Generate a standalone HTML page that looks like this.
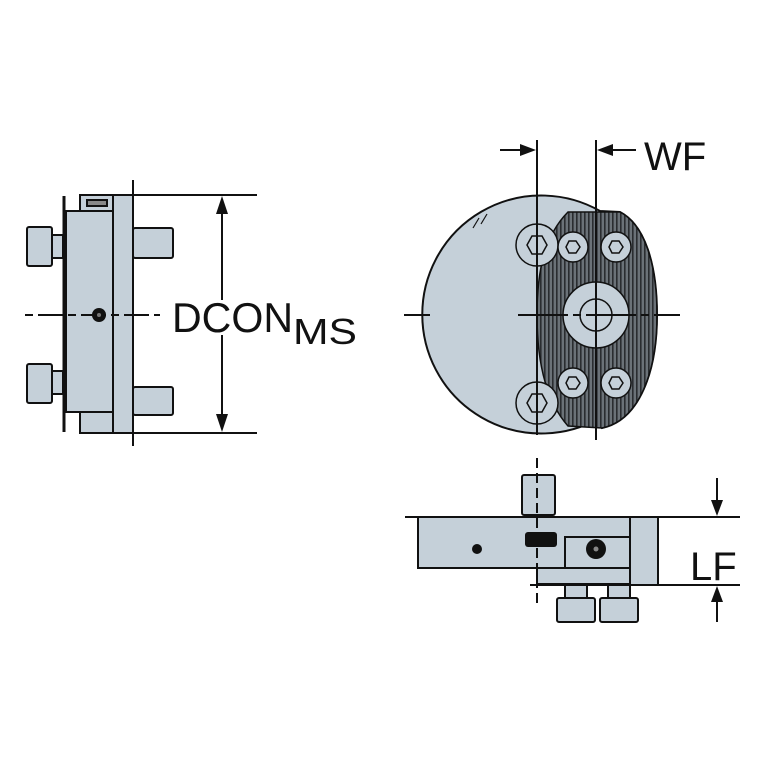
<!DOCTYPE html>
<html><head><style>html,body{margin:0;padding:0;background:#fff}svg{display:block}</style></head>
<body>
<svg width="767" height="767" viewBox="0 0 767 767" xmlns="http://www.w3.org/2000/svg" font-family="Liberation Sans, Arial, sans-serif">
<defs>
<pattern id="hatch" width="4" height="4" patternUnits="userSpaceOnUse">
<rect width="4" height="4" fill="#6b7278"/><rect width="1.6" height="4" fill="#2a2d30"/>
</pattern>
</defs>
<g stroke="#111" stroke-width="2" fill="#c5d0d9">
<!-- LEFT VIEW -->
<rect x="27" y="227" width="25" height="39" rx="2"/>
<rect x="52" y="235" width="11" height="23"/>
<rect x="27" y="364" width="25" height="39" rx="2"/>
<rect x="52" y="371" width="11" height="23"/>
<rect x="133" y="228" width="40" height="30" rx="2"/>
<rect x="133" y="387" width="40" height="28" rx="2"/>
<rect x="80" y="195" width="33" height="17"/>
<rect x="80" y="412" width="33" height="21"/>
<rect x="66" y="211" width="47" height="201"/>
<rect x="113" y="195" width="20" height="238"/>
<rect x="87" y="200" width="20" height="6" fill="#888"/>
</g>
<g stroke="#111" stroke-width="2" fill="none">
<line x1="64" y1="196" x2="64" y2="432" stroke-width="3"/>
<line x1="133" y1="180" x2="133" y2="446"/>
<line x1="133" y1="195" x2="257" y2="195"/>
<line x1="133" y1="433" x2="257" y2="433"/>
<line x1="222" y1="210" x2="222" y2="300"/>
<line x1="222" y1="335" x2="222" y2="418"/>
<line x1="25" y1="315" x2="160" y2="315" stroke-dasharray="8 5 25 5"/>
</g>
<polygon points="222,196 216,214 228,214" fill="#111"/>
<polygon points="222,432 216,414 228,414" fill="#111"/>
<circle cx="99" cy="315" r="7" fill="#111"/><circle cx="99" cy="315" r="2" fill="#777"/>
<text x="172" y="332" font-size="42" textLength="121" lengthAdjust="spacingAndGlyphs" fill="#111">DCON</text>
<text x="293" y="344" font-size="36" textLength="64" lengthAdjust="spacingAndGlyphs" fill="#111">MS</text>

<!-- CIRCLE VIEW -->
<path d="M620,212 L600,211 A119,119 0 1 0 600,418 L602,428 C640,420 657,370 657,315 C657,265 645,225 620,212 Z" fill="#c5d0d9" stroke="#111" stroke-width="2"/>
<path d="M568,212 L620,212 C645,225 657,265 657,315 C657,370 640,420 602,428 L568,426 C545,400 537,360 537,315 C537,270 545,235 568,212 Z" fill="url(#hatch)" stroke="#111" stroke-width="1.5"/>
<g stroke="#111" stroke-width="1.5" fill="#c5d0d9">
<circle cx="537" cy="245" r="21"/><polygon points="547,245 542,254 532,254 527,245 532,236 542,236" fill="none"/>
<circle cx="537" cy="403" r="21"/><polygon points="547,403 542,412 532,412 527,403 532,394 542,394" fill="none"/>
<circle cx="573" cy="247" r="15"/><polygon points="580,247 576,253 569,253 566,247 569,241 576,241" fill="none"/>
<circle cx="616" cy="247" r="15"/><polygon points="623,247 619,253 612,253 609,247 612,241 619,241" fill="none"/>
<circle cx="573" cy="383" r="15"/><polygon points="580,383 576,389 569,389 566,383 569,377 576,377" fill="none"/>
<circle cx="616" cy="383" r="15"/><polygon points="623,383 619,389 612,389 609,383 612,377 619,377" fill="none"/>
<circle cx="596" cy="315" r="33"/><circle cx="596" cy="315" r="16" fill="none"/>
</g>
<g stroke="#111" stroke-width="2" fill="none">
<line x1="537" y1="140" x2="537" y2="435"/>
<line x1="596" y1="140" x2="596" y2="440"/>
<line x1="518" y1="315" x2="680" y2="315" stroke-dasharray="50 5 8 5"/>
<line x1="404" y1="315" x2="430" y2="315"/>
<line x1="500" y1="150" x2="522" y2="150"/>
<line x1="612" y1="150" x2="636" y2="150"/>
<line x1="473" y1="228" x2="479" y2="218" stroke-width="1.2"/>
<line x1="481" y1="224" x2="487" y2="214" stroke-width="1.2"/>
</g>
<polygon points="536,150 520,144 520,156" fill="#111"/>
<polygon points="597,150 613,144 613,156" fill="#111"/>
<text x="644" y="170" font-size="40" fill="#111">WF</text>

<!-- BOTTOM VIEW -->
<g stroke="#111" stroke-width="2" fill="#c5d0d9">
<rect x="522" y="475" width="33" height="40" rx="2"/>
<rect x="565" y="583" width="22" height="16"/>
<rect x="608" y="583" width="22" height="16"/>
<rect x="557" y="598" width="38" height="24" rx="2"/>
<rect x="600" y="598" width="38" height="24" rx="2"/>
<rect x="537" y="566" width="93" height="18"/>
<rect x="418" y="517" width="239" height="51"/>
<rect x="630" y="517" width="28" height="68"/>
<rect x="565" y="537" width="65" height="31"/>
</g>
<g stroke="#111" stroke-width="2" fill="none">
<line x1="405" y1="517" x2="740" y2="517"/>
<line x1="530" y1="585" x2="740" y2="585"/>
<line x1="537" y1="458" x2="537" y2="605" stroke-dasharray="10 5"/>
<line x1="717" y1="478" x2="717" y2="505"/>
<line x1="717" y1="598" x2="717" y2="622"/>
</g>
<rect x="525" y="532" width="32" height="15" rx="3" fill="#111"/>
<circle cx="477" cy="549" r="5" fill="#111"/>
<circle cx="596" cy="549" r="10" fill="#111"/><circle cx="596" cy="549" r="2.5" fill="#888"/>
<polygon points="717,516 711,500 723,500" fill="#111"/>
<polygon points="717,586 711,602 723,602" fill="#111"/>
<text x="690" y="580" font-size="40" fill="#111">LF</text>
</svg>
</body></html>
